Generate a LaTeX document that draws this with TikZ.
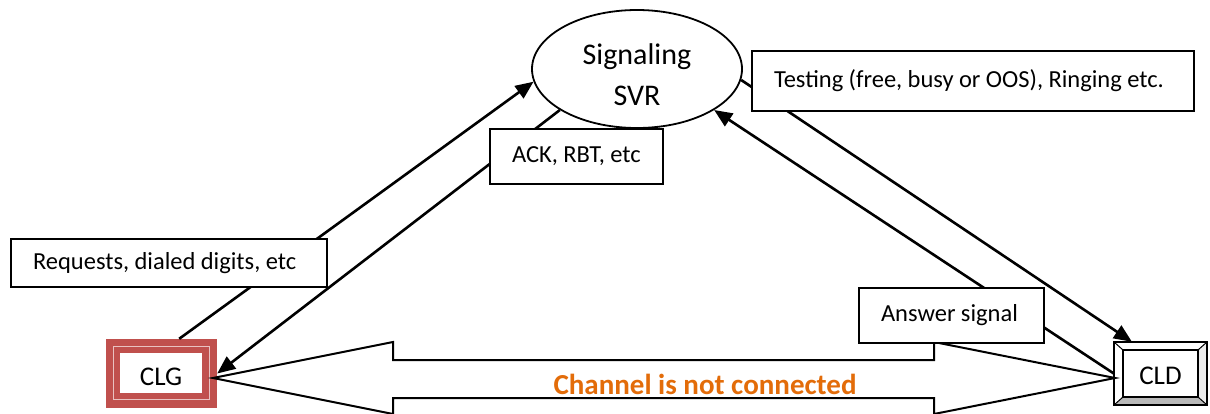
\documentclass[tikz,border=0pt]{standalone}
\usepackage{fontspec}
\setmainfont{Carlito}
\usetikzlibrary{arrows.meta,shapes.geometric}
\definecolor{clgred}{HTML}{C0504D}
\definecolor{chanorange}{HTML}{E36C09}
\newcommand\tightwords[1]{\hbox{\spaceskip=0.22em plus 0pt minus 0pt\relax #1}}
\tikzset{
  lbl/.style={draw=black, line width=2pt, fill=white, anchor=north west,
    align=left, inner xsep=22pt, inner ysep=0pt,
    font=\fontsize{24.5}{28}\selectfont},
  conn/.style={line width=2.6pt, -{Triangle[length=18pt,width=15pt]}},
  bevel/.style={draw=black, line width=1.6pt, line join=miter},
}
\begin{document}
\begin{tikzpicture}[x=1pt,y=-1pt]
\useasboundingbox (0,0) rectangle (1210,413);

% signalling server
\node[draw, ellipse, line width=1.8pt, fill=white, minimum width=210pt,
      minimum height=118pt, inner sep=0pt] (svr) at (637,69) {};
\node[align=center, inner sep=0pt, font=\fontsize{30}{41}\selectfont]
  (svrtext) at (637,75) {Signaling\\SVR};

% calling and called parties
\node[fill=clgred, minimum width=111pt, minimum height=69pt, inner sep=0pt] (clg) at (161.5,373.5) {};
\draw[clgred!35!white, line width=1pt] (113,346) rectangle (209,399);
\fill[white] (120,353) rectangle (202,393);
\node[font=\fontsize{27}{30}\selectfont, inner sep=0pt] (clgtext) at (161,377) {CLG};

\node[minimum width=93pt, minimum height=63pt, inner sep=0pt] (cld) at (1160.5,373.5) {};
\fill[gray!55] (1114,405) -- (1123,397) -- (1198,397) -- (1207,405) -- cycle;
\fill[gray!15] (1207,342) -- (1198,350) -- (1198,397) -- (1207,405) -- cycle;
\draw[bevel] (1114,342) rectangle (1207,405);
\draw[bevel] (1123,350) rectangle (1198,397);
\draw[bevel, line width=1pt] (1114,342) -- (1123,350) (1207,342) -- (1198,350)
  (1114,405) -- (1123,397) (1207,405) -- (1198,397);
\node[font=\fontsize{27}{30}\selectfont, inner sep=0pt] (cldtext) at (1160.5,376) {CLD};

% voice channel (block arrow, not yet through-connected)
\draw[line width=2pt, fill=white, line join=miter]
  (213,378) -- (393,342) -- (393,360) -- (934,360) -- (934,342) -- (1115,378)
  -- (934,414) -- (934,398) -- (393,398) -- (393,414) -- cycle;
\node[text=chanorange, font=\bfseries\fontsize{29}{32}\selectfont, inner sep=0pt]
  (chan) at (705,384) {Channel is not connected};

% signalling exchanges
\draw[conn] (clg.63) -- (svr.187);
\draw[conn] (svr.208) -- (clg.east);
\draw[conn] (svr.-6) -- (cld.132);
\draw[conn] (cld.west) -- (svr.-28);

% message labels
\node[lbl, text width=272pt, minimum height=48pt] (req) at (10,238) {\tightwords{Requests, dialed digits, etc}};
\node[lbl, text width=129pt, minimum height=55pt] (ack) at (489,128) {\tightwords{ACK, RBT, etc}};
\node[lbl, text width=398pt, minimum height=60pt] (test) at (751,50) {\raisebox{3pt}{\tightwords{Testing (free, busy or OOS), Ringing etc.}}};
\node[lbl, text width=141pt, minimum height=55pt] (ans) at (858,287) {\tightwords{Answer signal}};
\end{tikzpicture}
\end{document}
